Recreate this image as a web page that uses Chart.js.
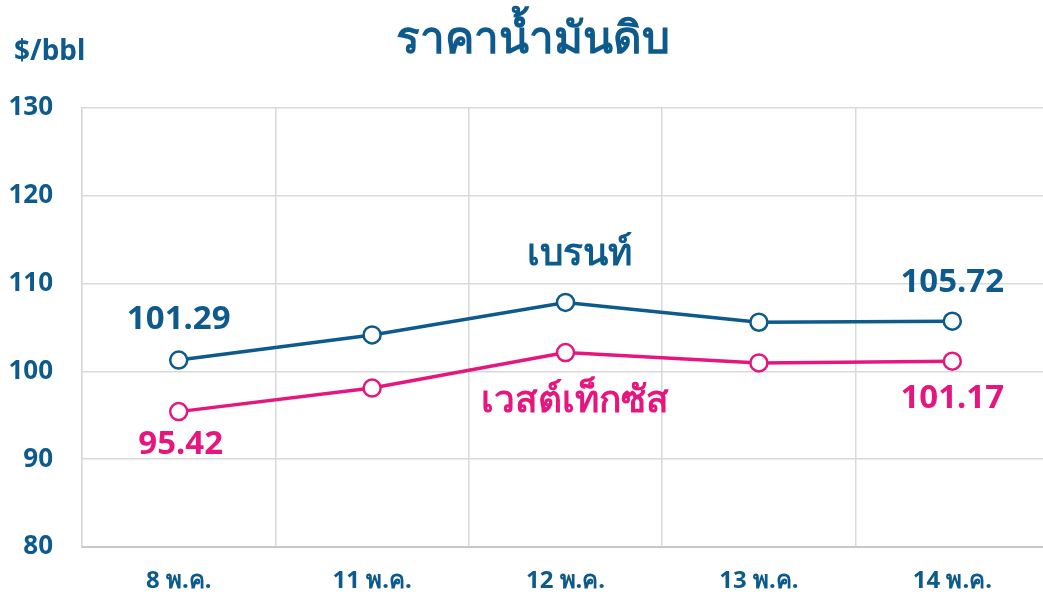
<!DOCTYPE html>
<html>
<head>
<meta charset="utf-8">
<script src="https://cdn.jsdelivr.net/npm/chart.js@4"></script>
<style>
  html, body { margin: 0; padding: 0; background: #fff; overflow: hidden; }
  #wrap { width: 1043px; height: 595px; overflow: hidden; }
</style>
</head>
<body>
<div id="wrap"><canvas id="oilChart" width="1060" height="595"></canvas></div>
<script>
// data
const days = ['8 พ.ค.', '11 พ.ค.', '12 พ.ค.', '13 พ.ค.', '14 พ.ค.'];
const brent = [101.29, 104.15, 107.85, 105.6, 105.72];
const wti = [95.42, 98.1, 102.15, 100.97, 101.17];
const yTicks = [80, 90, 100, 110, 120, 130];

const BLUE = '#0d5a8c';
const PINK = '#e5177f';
const FONT = "'Noto Sans', 'DejaVu Sans', sans-serif";

// value labels + series names + title, placed from the scales
const labelPlugin = {
  id: 'labels',
  afterDatasetsDraw(chart) {
    const ctx = chart.ctx;
    const metaB = chart.getDatasetMeta(0).data;
    const metaW = chart.getDatasetMeta(1).data;
    ctx.save();
    ctx.textAlign = 'center';
    ctx.textBaseline = 'middle';

    ctx.font = 'bold 33px ' + FONT;
    ctx.fillStyle = BLUE;
    ctx.fillText(brent[0].toFixed(2), metaB[0].x, metaB[0].y - 40);
    ctx.fillText(brent[4].toFixed(2), metaB[4].x, metaB[4].y - 39);
    ctx.fillStyle = PINK;
    ctx.fillText(wti[0].toFixed(2), metaW[0].x + 2, metaW[0].y + 33);
    ctx.fillText(wti[4].toFixed(2), metaW[4].x, metaW[4].y + 37);

    ctx.font = 'bold 37px ' + FONT;
    ctx.fillStyle = BLUE;
    ctx.fillText('เบรนท์', metaB[2].x + 14, metaB[2].y - 48);
    ctx.fillStyle = PINK;
    ctx.fillText('เวสต์เท็กซัส', metaW[2].x + 9, metaW[2].y + 49);

    ctx.font = 'bold 44px ' + FONT;
    ctx.fillStyle = BLUE;
    ctx.fillText('ราคาน้ำมันดิบ', 533, 40);

    ctx.font = 'bold 28px ' + FONT;
    ctx.textAlign = 'left';
    ctx.fillText('$/bbl', 14, 52);
    ctx.restore();
  }
};

new Chart(document.getElementById('oilChart'), {
  type: 'line',
  data: {
    labels: days,
    datasets: [
      {
        label: 'เบรนท์',
        data: brent,
        borderColor: BLUE,
        backgroundColor: '#fff',
        borderWidth: 3.5,
        pointRadius: 8.5,
        pointBorderWidth: 2.5,
        pointBackgroundColor: '#fff',
        pointBorderColor: BLUE,
        tension: 0
      },
      {
        label: 'เวสต์เท็กซัส',
        data: wti,
        borderColor: PINK,
        backgroundColor: '#fff',
        borderWidth: 3.5,
        pointRadius: 8.5,
        pointBorderWidth: 2.5,
        pointBackgroundColor: '#fff',
        pointBorderColor: PINK,
        tension: 0
      }
    ]
  },
  options: {
    responsive: false,
    animation: false,
    layout: { padding: { top: 108, right: 7, left: 0, bottom: 0 } },
    plugins: {
      legend: { display: false },
      tooltip: { enabled: false }
    },
    scales: {
      x: {
        offset: true,
        grid: { color: '#d9d9d9', lineWidth: 1.5, drawTicks: false, offset: true },
        border: { color: '#c8c8c8', width: 2 },
        ticks: { color: BLUE, font: { family: FONT, size: 24, weight: 'bold' }, padding: 20 },
        afterFit: s => { s.height = 48; }
      },
      y: {
        min: 80,
        max: 130,
        afterBuildTicks: s => { s.ticks = yTicks.map(v => ({ value: v })); },
        grid: { color: '#d9d9d9', lineWidth: 1.5, drawTicks: false },
        border: { color: '#d9d9d9', width: 1.5 },
        ticks: { color: BLUE, font: { family: FONT, size: 26, weight: 'bold' }, padding: 29 },
        afterFit: s => { s.width = 82; }
      }
    }
  },
  plugins: [labelPlugin]
});
</script>
</body>
</html>
